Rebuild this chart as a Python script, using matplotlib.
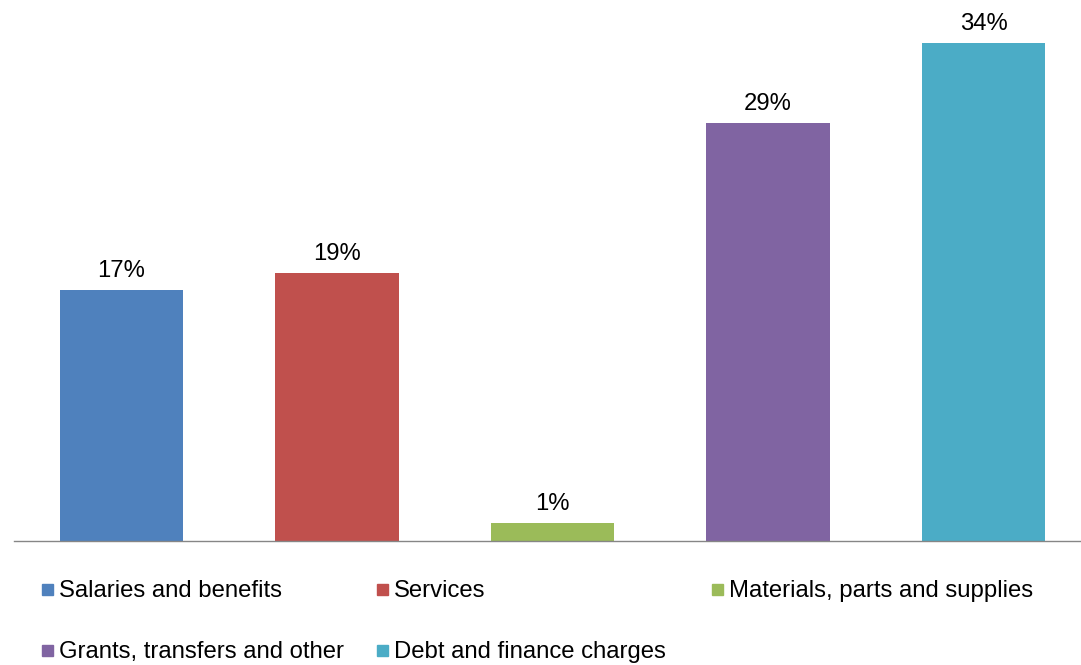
import matplotlib
matplotlib.use("Agg")
import matplotlib.pyplot as plt
from matplotlib.patches import Rectangle

plt.rcParams['font.family'] = ['Liberation Sans', 'DejaVu Sans']

categories = ["Salaries and benefits", "Services", "Materials, parts and supplies",
              "Grants, transfers and other", "Debt and finance charges"]
values = [17.1, 18.3, 1.2, 28.5, 34.0]
labels = ["17%", "19%", "1%", "29%", "34%"]
colors = ["#4F81BD", "#C0504D", "#9BBB59", "#8064A2", "#4BACC6"]

W, H = 1081, 665
fig = plt.figure(figsize=(W/100, H/100), dpi=100)
pitch = 215.5
left = 121.5 - pitch/2
ax = fig.add_axes([left/W, 1-541/H, 5*pitch/W, 541/H])
x = range(len(categories))
ax.bar(x, values, width=0.575, color=colors)
for xi, v, lab in zip(x, values, labels):
    ax.annotate(lab, (xi, v), xytext=(0, 6), textcoords="offset points",
                ha="center", va="bottom", fontsize=17.2, color="#000000")
ax.set_xlim(-0.5, 4.5)
ax.set_ylim(0, 541/14.65)
for s in ["top", "right", "left", "bottom"]:
    ax.spines[s].set_visible(False)
ax.axhline(0, xmin=0, xmax=(1081-left)/(5*pitch), color="#868686", lw=1.0, clip_on=False)
ax.set_xticks([])
ax.set_yticks([])

# legend laid out manually: 3 columns, 2 rows
col_x = [42, 377, 712]
row_y = [589, 650]
for i, (cat, c) in enumerate(zip(categories, colors)):
    r, cidx = divmod(i, 3)
    px, py = col_x[cidx], row_y[r]
    fig.add_artist(Rectangle((px/W, 1-(py+5.5)/H), 11/W, 11/H, color=c,
                             transform=fig.transFigure))
    fig.text((px+17)/W, 1-(py+2)/H, cat, ha="left", va="center", fontsize=17.2)

fig.savefig("out.png", dpi=100)
